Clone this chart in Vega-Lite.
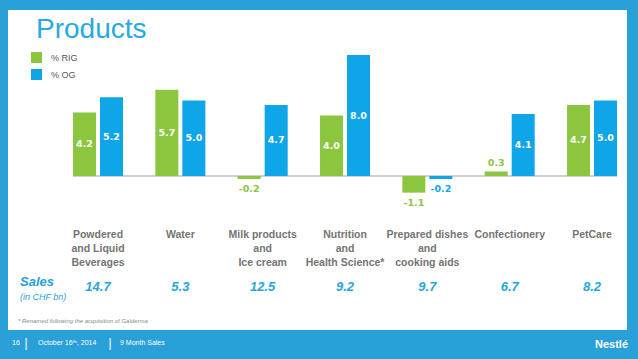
{
  "$schema": "https://vega.github.io/schema/vega-lite/v6.json",
  "autosize": "none",
  "width": 619,
  "height": 320,
  "padding": {"left": 8, "top": 10, "right": 11, "bottom": 29},
  "background": "#2aa0d8",
  "config": {"view": {"stroke": null, "fill": "white"}, "font": "Liberation Sans"},
  "title": {"text": "Products", "anchor": "start", "frame": "group", "offset": -34, "dx": 28, "fontSize": 28, "fontWeight": "normal", "color": "#29a9e1", "font": "Liberation Sans"},
  "datasets": {
    "bars": [
      {"cat": "Powdered", "series": "% RIG", "value": 4.2},
      {"cat": "Powdered", "series": "% OG", "value": 5.2},
      {"cat": "Water", "series": "% RIG", "value": 5.7},
      {"cat": "Water", "series": "% OG", "value": 5.0},
      {"cat": "Milk", "series": "% RIG", "value": -0.2},
      {"cat": "Milk", "series": "% OG", "value": 4.7},
      {"cat": "Nutrition", "series": "% RIG", "value": 4.0},
      {"cat": "Nutrition", "series": "% OG", "value": 8.0},
      {"cat": "Prepared", "series": "% RIG", "value": -1.1},
      {"cat": "Prepared", "series": "% OG", "value": -0.2},
      {"cat": "Confectionery", "series": "% RIG", "value": 0.3},
      {"cat": "Confectionery", "series": "% OG", "value": 4.1},
      {"cat": "PetCare", "series": "% RIG", "value": 4.7},
      {"cat": "PetCare", "series": "% OG", "value": 5.0}
    ],
    "cats": [
      {"cat": "Powdered", "label": "Powdered\nand Liquid\nBeverages", "sales": 14.7},
      {"cat": "Water", "label": "Water", "sales": 5.3},
      {"cat": "Milk", "label": "Milk products\nand\nIce cream", "sales": 12.5},
      {"cat": "Nutrition", "label": "Nutrition\nand\nHealth Science*", "sales": 9.2},
      {"cat": "Prepared", "label": "Prepared dishes\nand\ncooking aids", "sales": 9.7},
      {"cat": "Confectionery", "label": "Confectionery", "sales": 6.7},
      {"cat": "PetCare", "label": "PetCare", "sales": 8.2}
    ]
  },
  "encoding": {
    "x": {"field": "cat", "type": "nominal", "axis": null,
      "scale": {"domain": ["Powdered", "Water", "Milk", "Nutrition", "Prepared", "Confectionery", "PetCare"], "paddingInner": 0.3927, "paddingOuter": 0.4554, "align": 0.867}},
    "y": {"type": "quantitative", "axis": null, "scale": {"domain": [-10.18, 10.975], "nice": false, "zero": false}}
  },
  "layer": [
    {
      "data": {"values": [{"a": "Powdered", "b": "PetCare"}]},
      "mark": {"type": "rule", "color": "#a0a0a0", "strokeWidth": 1},
      "encoding": {
        "x": {"field": "a", "type": "nominal", "bandPosition": 0},
        "x2": {"field": "b", "bandPosition": 1},
        "y": {"datum": 0}
      }
    },
    {
      "data": {"name": "bars"},
      "mark": {"type": "bar"},
      "encoding": {
        "xOffset": {"field": "series", "type": "nominal", "scale": {"domain": ["% RIG", "% OG"], "paddingInner": 0.148, "paddingOuter": 0}},
        "y": {"field": "value", "type": "quantitative"},
        "color": {"field": "series", "type": "nominal",
          "scale": {"domain": ["% RIG", "% OG"], "range": ["#8cc63f", "#0ea5e9"]},
          "legend": {"title": null, "orient": "none", "legendX": 23, "legendY": 42, "symbolType": "square", "symbolSize": 121, "symbolStrokeWidth": 0, "symbolOpacity": 1, "labelFontSize": 9, "labelColor": "#555555", "labelOffset": 9, "rowPadding": 6, "labelFont": "Liberation Sans"}}
      }
    },
    {
      "data": {"name": "bars"},
      "transform": [{"filter": "datum.value >= 1"}, {"calculate": "datum.value / 2", "as": "mid"}],
      "mark": {"type": "text", "color": "white", "font": "DejaVu Sans", "fontWeight": "bold", "fontSize": 9.5, "baseline": "middle"},
      "encoding": {
        "xOffset": {"field": "series", "type": "nominal"},
        "y": {"field": "mid", "type": "quantitative"},
        "text": {"field": "value", "type": "quantitative", "format": ".1f"}
      }
    },
    {
      "data": {"name": "bars"},
      "transform": [{"filter": "datum.value < 0"}, {"calculate": "replace(format(datum.value, '.1f'), '\u2212', '-')", "as": "lbl"}],
      "mark": {"type": "text", "font": "DejaVu Sans", "fontWeight": "bold", "fontSize": 9.5, "baseline": "top", "dy": 5},
      "encoding": {
        "xOffset": {"field": "series", "type": "nominal"},
        "y": {"field": "value", "type": "quantitative"},
        "color": {"field": "series", "type": "nominal", "legend": null},
        "text": {"field": "lbl"}
      }
    },
    {
      "data": {"name": "bars"},
      "transform": [{"filter": "datum.value >= 0 && datum.value < 1"}],
      "mark": {"type": "text", "font": "DejaVu Sans", "fontWeight": "bold", "fontSize": 9.5, "baseline": "bottom", "dy": -3},
      "encoding": {
        "xOffset": {"field": "series", "type": "nominal"},
        "y": {"field": "value", "type": "quantitative"},
        "color": {"field": "series", "type": "nominal", "legend": null},
        "text": {"field": "value", "type": "quantitative", "format": ".1f"}
      }
    },
    {
      "data": {"name": "cats"},
      "mark": {"type": "text", "lineBreak": "\n", "baseline": "top", "fontSize": 10.5, "lineHeight": 14, "fontWeight": "bold", "color": "#747474"},
      "encoding": {
        "y": {"datum": -3.57},
        "text": {"field": "label"}
      }
    },
    {
      "data": {"name": "cats"},
      "mark": {"type": "text", "baseline": "middle", "fontSize": 13, "fontWeight": "bold", "fontStyle": "italic", "color": "#2aa5dc"},
      "encoding": {
        "y": {"datum": -7.34},
        "text": {"field": "sales", "type": "quantitative", "format": ".1f"}
      }
    },
    {
      "data": {"values": [{"t": "Sales"}]},
      "mark": {"type": "text", "align": "left", "baseline": "middle", "dx": -78, "fontSize": 13, "fontWeight": "bold", "fontStyle": "italic", "color": "#2a9fd8"},
      "encoding": {"x": {"datum": "Powdered"}, "y": {"datum": -7.0}, "text": {"field": "t"}}
    },
    {
      "data": {"values": [{"t": "(in CHF bn)"}]},
      "mark": {"type": "text", "align": "left", "baseline": "middle", "dx": -78, "fontSize": 9, "fontStyle": "italic", "color": "#2a9fd8"},
      "encoding": {"x": {"datum": "Powdered"}, "y": {"datum": -8.0}, "text": {"field": "t"}}
    },
    {
      "data": {"values": [{"t": "* Renamed following the acquisition of Galderma"}]},
      "mark": {"type": "text", "align": "left", "baseline": "middle", "dx": -80, "fontSize": 6, "fontStyle": "italic", "color": "#8a8a8a"},
      "encoding": {"x": {"datum": "Powdered"}, "y": {"datum": -9.59}, "text": {"field": "t"}}
    },
    {
      "data": {"values": [{"t": "16"}]},
      "mark": {"type": "text", "align": "left", "baseline": "middle", "dx": -86, "fontSize": 7, "color": "white"},
      "encoding": {"x": {"datum": "Powdered"}, "y": {"datum": -11.04}, "text": {"field": "t"}}
    },
    {
      "data": {"values": [{"t": "|"}]},
      "mark": {"type": "text", "align": "center", "baseline": "middle", "dx": -72, "fontSize": 12, "color": "white"},
      "encoding": {"x": {"datum": "Powdered"}, "y": {"datum": -11.04}, "text": {"field": "t"}}
    },
    {
      "data": {"values": [{"t": "October 16ᵗʰ, 2014"}]},
      "mark": {"type": "text", "align": "left", "baseline": "middle", "dx": -60, "fontSize": 7, "color": "white"},
      "encoding": {"x": {"datum": "Powdered"}, "y": {"datum": -11.04}, "text": {"field": "t"}}
    },
    {
      "data": {"values": [{"t": "|"}]},
      "mark": {"type": "text", "align": "center", "baseline": "middle", "dx": 12, "fontSize": 12, "color": "white"},
      "encoding": {"x": {"datum": "Powdered"}, "y": {"datum": -11.04}, "text": {"field": "t"}}
    },
    {
      "data": {"values": [{"t": "9 Month Sales"}]},
      "mark": {"type": "text", "align": "left", "baseline": "middle", "dx": 22, "fontSize": 7, "color": "white"},
      "encoding": {"x": {"datum": "Powdered"}, "y": {"datum": -11.04}, "text": {"field": "t"}}
    },
    {
      "data": {"values": [{"t": "Nestlé"}]},
      "mark": {"type": "text", "align": "right", "baseline": "middle", "dx": 36, "fontSize": 11, "fontWeight": "bold", "color": "white"},
      "encoding": {"x": {"datum": "PetCare"}, "y": {"datum": -11.17}, "text": {"field": "t"}}
    }
  ]
}
